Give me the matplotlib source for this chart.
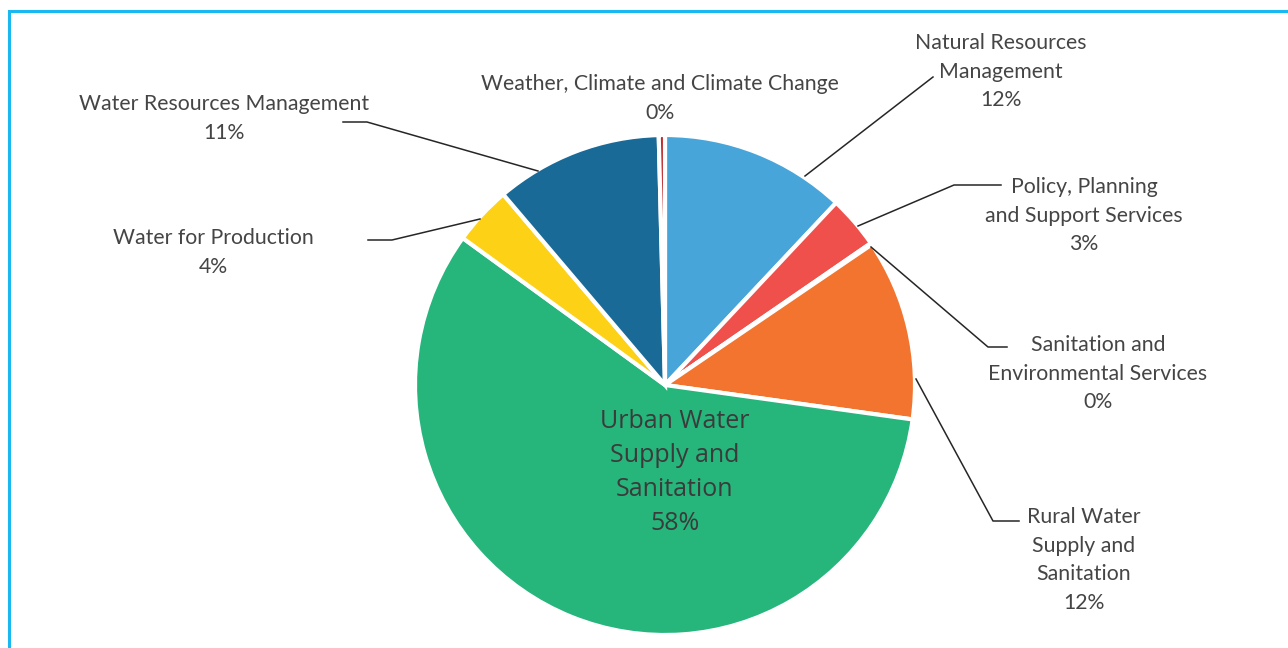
import matplotlib
matplotlib.use("Agg")
import matplotlib.pyplot as plt
import numpy as np

categories = ["Natural Resources\nManagement",
              "Policy, Planning\nand Support Services",
              "Sanitation and\nEnvironmental Services",
              "Rural Water\nSupply and\nSanitation",
              "Urban Water\nSupply and\nSanitation",
              "Water for Production",
              "Water Resources Management",
              "Weather, Climate and Climate Change"]
values = [12.0, 3.4, 0.1, 11.7, 57.8, 3.8, 10.8, 0.4]
pct_labels = ["12%", "3%", "0%", "12%", "58%", "4%", "11%", "0%"]
colors = ["#47a5da", "#ef504b", "#9b9b9b", "#f2742e", "#26b57b",
          "#fdd116", "#1a6a98", "#c0282a"]

W, H = 1288, 648
fig = plt.figure(figsize=(W / 100, H / 100), dpi=100)
ax = fig.add_axes([0, 0, 1, 1])

def P(x, y):
    return (x, H - y)

cx, cy, R = 665, 385, 250
wedges, _ = ax.pie(values, colors=colors, startangle=90, counterclock=False,
                   center=P(cx, cy), radius=R, frame=False,
                   wedgeprops=dict(edgecolor="white", linewidth=3))
ax.set_xlim(0, W)
ax.set_ylim(0, H)
ax.set_aspect("equal")
ax.axis("off")

# frame border
ax.plot([9, 9, W + 5], [-5, H - 11, H - 11], color="#1ab8f0", lw=2.2,
        solid_joinstyle="miter", clip_on=False)

txt_col = "#454545"
fam = ["Lato", "DejaVu Sans"]
fs = 15.3

# label layout: (text center x, first line y) in pixel coords, leader path
layout = {
    0: dict(tx=1001, ty=43, path=[(805, 176), (933, 77)]),
    1: dict(tx=1084, ty=187, path=[(858, 226), (954, 185), (1001, 185)]),
    2: dict(tx=1098, ty=345, path=[(871, 247), (988, 347), (1007, 347)]),
    3: dict(tx=1084, ty=517, path=[(916, 379), (993, 521), (1019, 521)]),
    5: dict(tx=213, ty=238, path=[(480, 219), (392, 240), (368, 240)]),
    6: dict(tx=224, ty=104, path=[(538, 171), (367, 122), (343, 122)]),
    7: dict(tx=660, ty=84, path=[]),
}
lh = 28.7
for i, lay in layout.items():
    lines = categories[i].split("\n") + [pct_labels[i]]
    for k, s in enumerate(lines):
        x, y = P(lay["tx"], lay["ty"] + k * lh)
        ax.text(x, y, s, ha="center", va="center", fontsize=fs, color=txt_col,
                family=fam, fontweight="normal")
    if lay["path"]:
        xs, ys = zip(*[P(a, b) for a, b in lay["path"]])
        ax.plot(xs, ys, color="#262626", lw=1.1)

# Urban label inside
lines = categories[4].split("\n") + [pct_labels[4]]
for k, s in enumerate(lines):
    x, y = P(675, 421 + k * 34.3)
    ax.text(x, y, s, ha="center", va="center", fontsize=18, color="#3b3b3b",
            family=["Open Sans", "DejaVu Sans"])

fig.savefig("out.png", dpi=100, facecolor="white")
